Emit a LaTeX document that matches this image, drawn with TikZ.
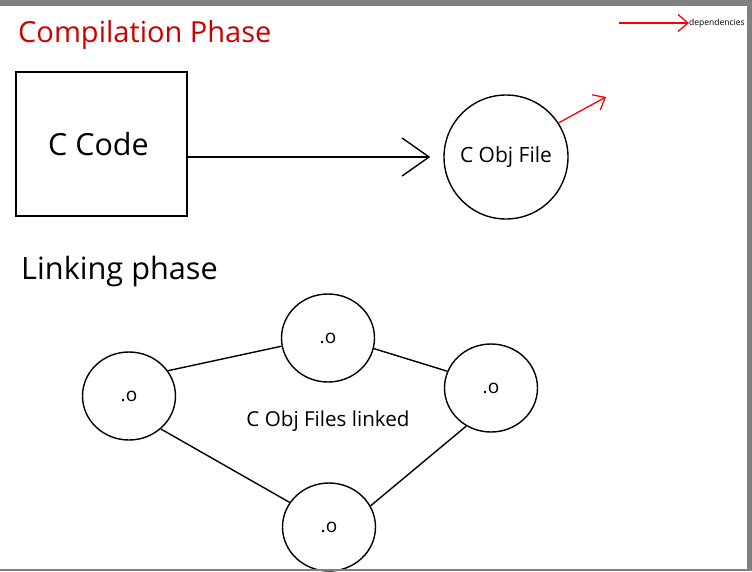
\documentclass[tikz,border=0pt]{standalone}
\usepackage{fontspec}
\setmainfont{Open Sans}
\usetikzlibrary{arrows.meta,positioning,shapes.geometric,calc}
\definecolor{titlered}{RGB}{204,0,0}
\definecolor{framegray}{RGB}{128,128,128}

\begin{document}
\begin{tikzpicture}[x=1pt, y=-1pt,
                    every phase/.style = {inner sep=0pt, anchor=base west},
                    phase/.style = {every phase, font=\fontsize{29}{34}\selectfont},
                    source file/.style = {rectangle, draw, line width=1.4pt, minimum width=171pt,
                            minimum height=144pt, font=\fontsize{30.5}{36}\selectfont},
                    object file/.style = {circle, draw, line width=1.4pt, minimum size=124pt,
                            font=\fontsize{21}{25}\selectfont},
                    linked object/.style = {ellipse, draw, line width=1.4pt, minimum width=93pt,
                            minimum height=88pt, font=\fontsize{19}{23}\selectfont},
                    link/.style = {line width=1.4pt},
                    compile/.style = {line width=1.4pt, -{Straight Barb[length=27pt, width=38pt]}, shorten >=13pt},
                    depends/.style = {red, line width=1.3pt, -{Straight Barb[length=10pt, width=17pt]}} ]

                \useasboundingbox (0,0) rectangle (752,571);
                \fill[white] (0,0) rectangle (752,571);

                % compilation
                \node [phase, text=titlered] (compilation) at (18,42) {Compilation Phase};
                \node [source file] (ccode) at (101.5,144) {C Code\hspace*{6pt}};
                \node [object file] (cobj) at (506,157) {C Obj File};
                \draw [compile] (ccode.east |- cobj.west) -- (cobj.west);
                \coordinate (dep tip) at (606,97);
                \draw [depends] (cobj.33) -- (dep tip);

                % legend
                \coordinate (legend start) at (619,23);
                \node [anchor=west, inner sep=0pt, font=\fontsize{8.5}{10}\selectfont] (legend) at (689,23) {dependencies};
                \draw [depends] (legend start) -- (legend.west);

                % linking
                \node [phase, font=\fontsize{30.7}{36}\selectfont] (linking) at (21,279) {Linking phase};
                \node [linked object] (objleft) at (129,396) {.o};
                \node [linked object] (objtop) at (328,338) {.o};
                \node [linked object] (objright) at (491,388) {.o};
                \node [linked object] (objbottom) at (329,527) {.o};
                \node [font=\fontsize{20.6}{24}\selectfont] (linked) at (328,421) {C Obj Files linked};

                \draw [link] (objleft.33) -- (objtop.190);
                \draw [link] (objtop.347) -- (objright.159);
                \draw [link] (objleft.314) -- (objbottom.148);
                \draw [link] (objright.237) -- (objbottom.27);

                % frame
                \fill [framegray] (0,0) rectangle (752,6);
                \fill [framegray] (747,0) rectangle (752,571);
                \fill [framegray] (0,569) rectangle (752,571);
\end{tikzpicture}
\end{document}
